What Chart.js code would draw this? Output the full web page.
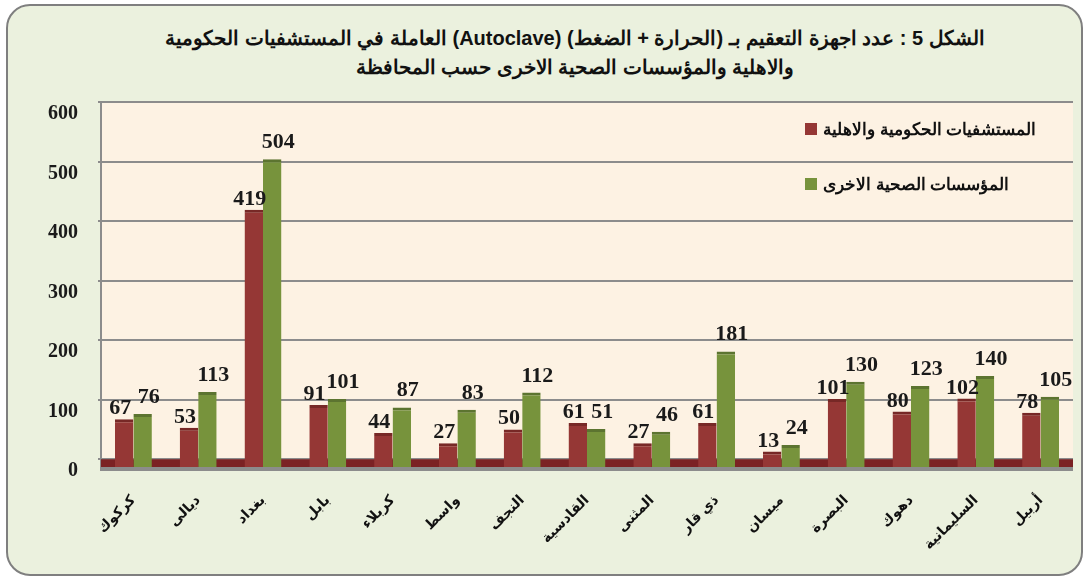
<!DOCTYPE html>
<html lang="ar">
<head>
  <meta charset="UTF-8">
  <title>Autoclave</title>
  <script src="https://cdn.jsdelivr.net/npm/chart.js"></script>
  <style>
    html, body {
      margin: 0;
      padding: 0;
      width: 1084px;
      height: 576px;
      overflow: hidden;
      background: #fff;
      font-family: Arial, sans-serif;
    }
    .frame {
      position: absolute;
      left: 6px;
      top: 4px;
      width: 1073px;
      height: 568px;
      border: 2px solid #7f7f7f;
      border-radius: 24px;
      background: #ebf1de;
    }
    .title {
      position: absolute;
      left: 66px;
      width: 1018px;
      top: 24px;
      text-align: center;
      font-weight: bold;
      font-size: 20px;
      line-height: 29px;
      color: #111;
    }
    #wrap {
      position: absolute;
      left: 0;
      top: 0;
      width: 1084px;
      height: 576px;
    }
    .legend {
      position: absolute;
      left: 805px;
      top: 117px;
      font-weight: bold;
      font-size: 17px;
      color: #111;
    }
    .legend .row {
      display: flex;
      align-items: center;
      height: 24px;
      margin-bottom: 31px;
    }
    .legend .sw {
      width: 12px;
      height: 12px;
      margin-right: 6px;
    }
  </style>
</head>
<body>
  <div class="frame"></div>
  <div class="title" dir="rtl">الشكل 5 : عدد اجهزة التعقيم بـ (الحرارة + الضغط) (Autoclave) العاملة في المستشفيات الحكومية<br>والاهلية والمؤسسات الصحية الاخرى حسب المحافظة</div>
  <div id="wrap"><canvas id="chart"></canvas></div>
  <div class="legend" id="legend"></div>

  <script>
    const governorates = ['كركوك', 'ديالى', 'بغداد', 'بابل', 'كربلاء', 'واسط', 'النجف', 'القادسية',
      'المثنى', 'ذي قار', 'ميسان', 'البصرة', 'دهوك', 'السليمانية', 'أربيل'];
    const hospitals = [67, 53, 419, 91, 44, 27, 50, 61, 27, 61, 13, 101, 80, 102, 78];
    const otherInst = [76, 113, 504, 101, 87, 83, 112, 51, 46, 181, 24, 130, 123, 140, 105];
    const seriesNames = ['المستشفيات الحكومية والاهلية', 'المؤسسات الصحية الاخرى'];
    const yTicks = [0, 100, 200, 300, 400, 500, 600];

    const floorDepth = 13; // depth of the 3d floor, in data units

    const redFill = '#953735', redTop = '#772826';
    const greenFill = '#77933c', greenTop = '#5c7430';

    // plot background + floor strip
    const plotBg = {
      id: 'plotBg',
      beforeDraw(chart) {
        const { ctx, chartArea: a } = chart;
        ctx.save();
        ctx.fillStyle = '#fdf2e3';
        ctx.fillRect(a.left, a.top, a.right - a.left, a.bottom - a.top);
        ctx.restore();
      },
      beforeDatasetsDraw(chart) {
        const { ctx, chartArea: a, scales } = chart;
        const y0 = scales.y.getPixelForValue(0);
        ctx.save();
        ctx.fillStyle = '#7b2224';
        ctx.fillRect(a.left, y0, a.right - a.left, a.bottom - y0);
        ctx.fillStyle = '#8c8c8c';
        ctx.fillRect(a.left - 1, a.bottom, a.right - a.left + 1, 4);
        ctx.restore();
      }
    };

    // value labels over the bars
    const valueLabels = {
      id: 'valueLabels',
      afterDatasetsDraw(chart) {
        const { ctx } = chart;
        ctx.save();
        ctx.font = 'bold 22px "Liberation Serif", "Times New Roman", serif';
        ctx.fillStyle = '#1a1a1a';
        ctx.textAlign = 'center';
        ctx.textBaseline = 'alphabetic';
        chart.data.datasets.forEach((ds, i) => {
          const meta = chart.getDatasetMeta(i);
          meta.data.forEach((bar, j) => {
            const dx = i === 0 ? -4 : 6;
            const dy = i === 0 ? 5 : 11;
            ctx.fillText(ds.data[j], bar.x + dx, bar.y - dy);
          });
        });
        ctx.restore();
      }
    };

    new Chart(document.getElementById('chart'), {
      type: 'bar',
      data: {
        labels: governorates,
        datasets: [
          {
            label: seriesNames[0],
            data: hospitals,
            backgroundColor: redFill,
            borderColor: redTop,
            borderWidth: { top: 3, left: 0, right: 0, bottom: 0 },
            borderSkipped: false,
            base: -floorDepth
          },
          {
            label: seriesNames[1],
            data: otherInst,
            backgroundColor: greenFill,
            borderColor: greenTop,
            borderWidth: { top: 3, left: 0, right: 0, bottom: 0 },
            borderSkipped: false,
            base: -floorDepth
          }
        ]
      },
      options: {
        responsive: true,
        maintainAspectRatio: false,
        animation: false,
        layout: { padding: { top: 102, right: 11, left: 0, bottom: 0 } },
        datasets: { bar: { categoryPercentage: 0.57, barPercentage: 1.0 } },
        plugins: {
          legend: { display: false },
          title: { display: false },
          tooltip: { enabled: false }
        },
        scales: {
          x: {
            grid: { display: false, drawTicks: false },
            border: { display: false },
            afterFit(scale) { scale.height = 109; },
            ticks: {
              maxRotation: 45,
              minRotation: 45,
              padding: 25,
              color: '#111',
              font: { family: 'Arial, "DejaVu Sans", sans-serif', size: 14, weight: 'bold' }
            }
          },
          y: {
            min: -floorDepth,
            max: 600,
            afterBuildTicks(scale) {
              scale.ticks = yTicks.map(v => ({ value: v }));
            },
            afterFit(scale) { scale.width = 101; },
            grid: { color: '#8c8c8c', lineWidth: 2, tickLength: 3 },
            border: { display: true, color: '#8c8c8c', width: 2 },
            ticks: {
              padding: 20,
              labelOffset: 12,
              color: '#1a1a1a',
              font: { family: '"Liberation Serif", "Times New Roman", serif', size: 20, weight: 'bold' }
            }
          }
        }
      },
      plugins: [plotBg, valueLabels]
    });

    // legend, square on the left of the RTL text
    const legendColors = [redFill, greenFill];
    document.getElementById('legend').innerHTML = seriesNames.map((name, i) =>
      '<div class="row"><span class="sw" style="background:' + legendColors[i] + '"></span>' +
      '<span dir="rtl">' + name + '</span></div>').join('');
  </script>
</body>
</html>
